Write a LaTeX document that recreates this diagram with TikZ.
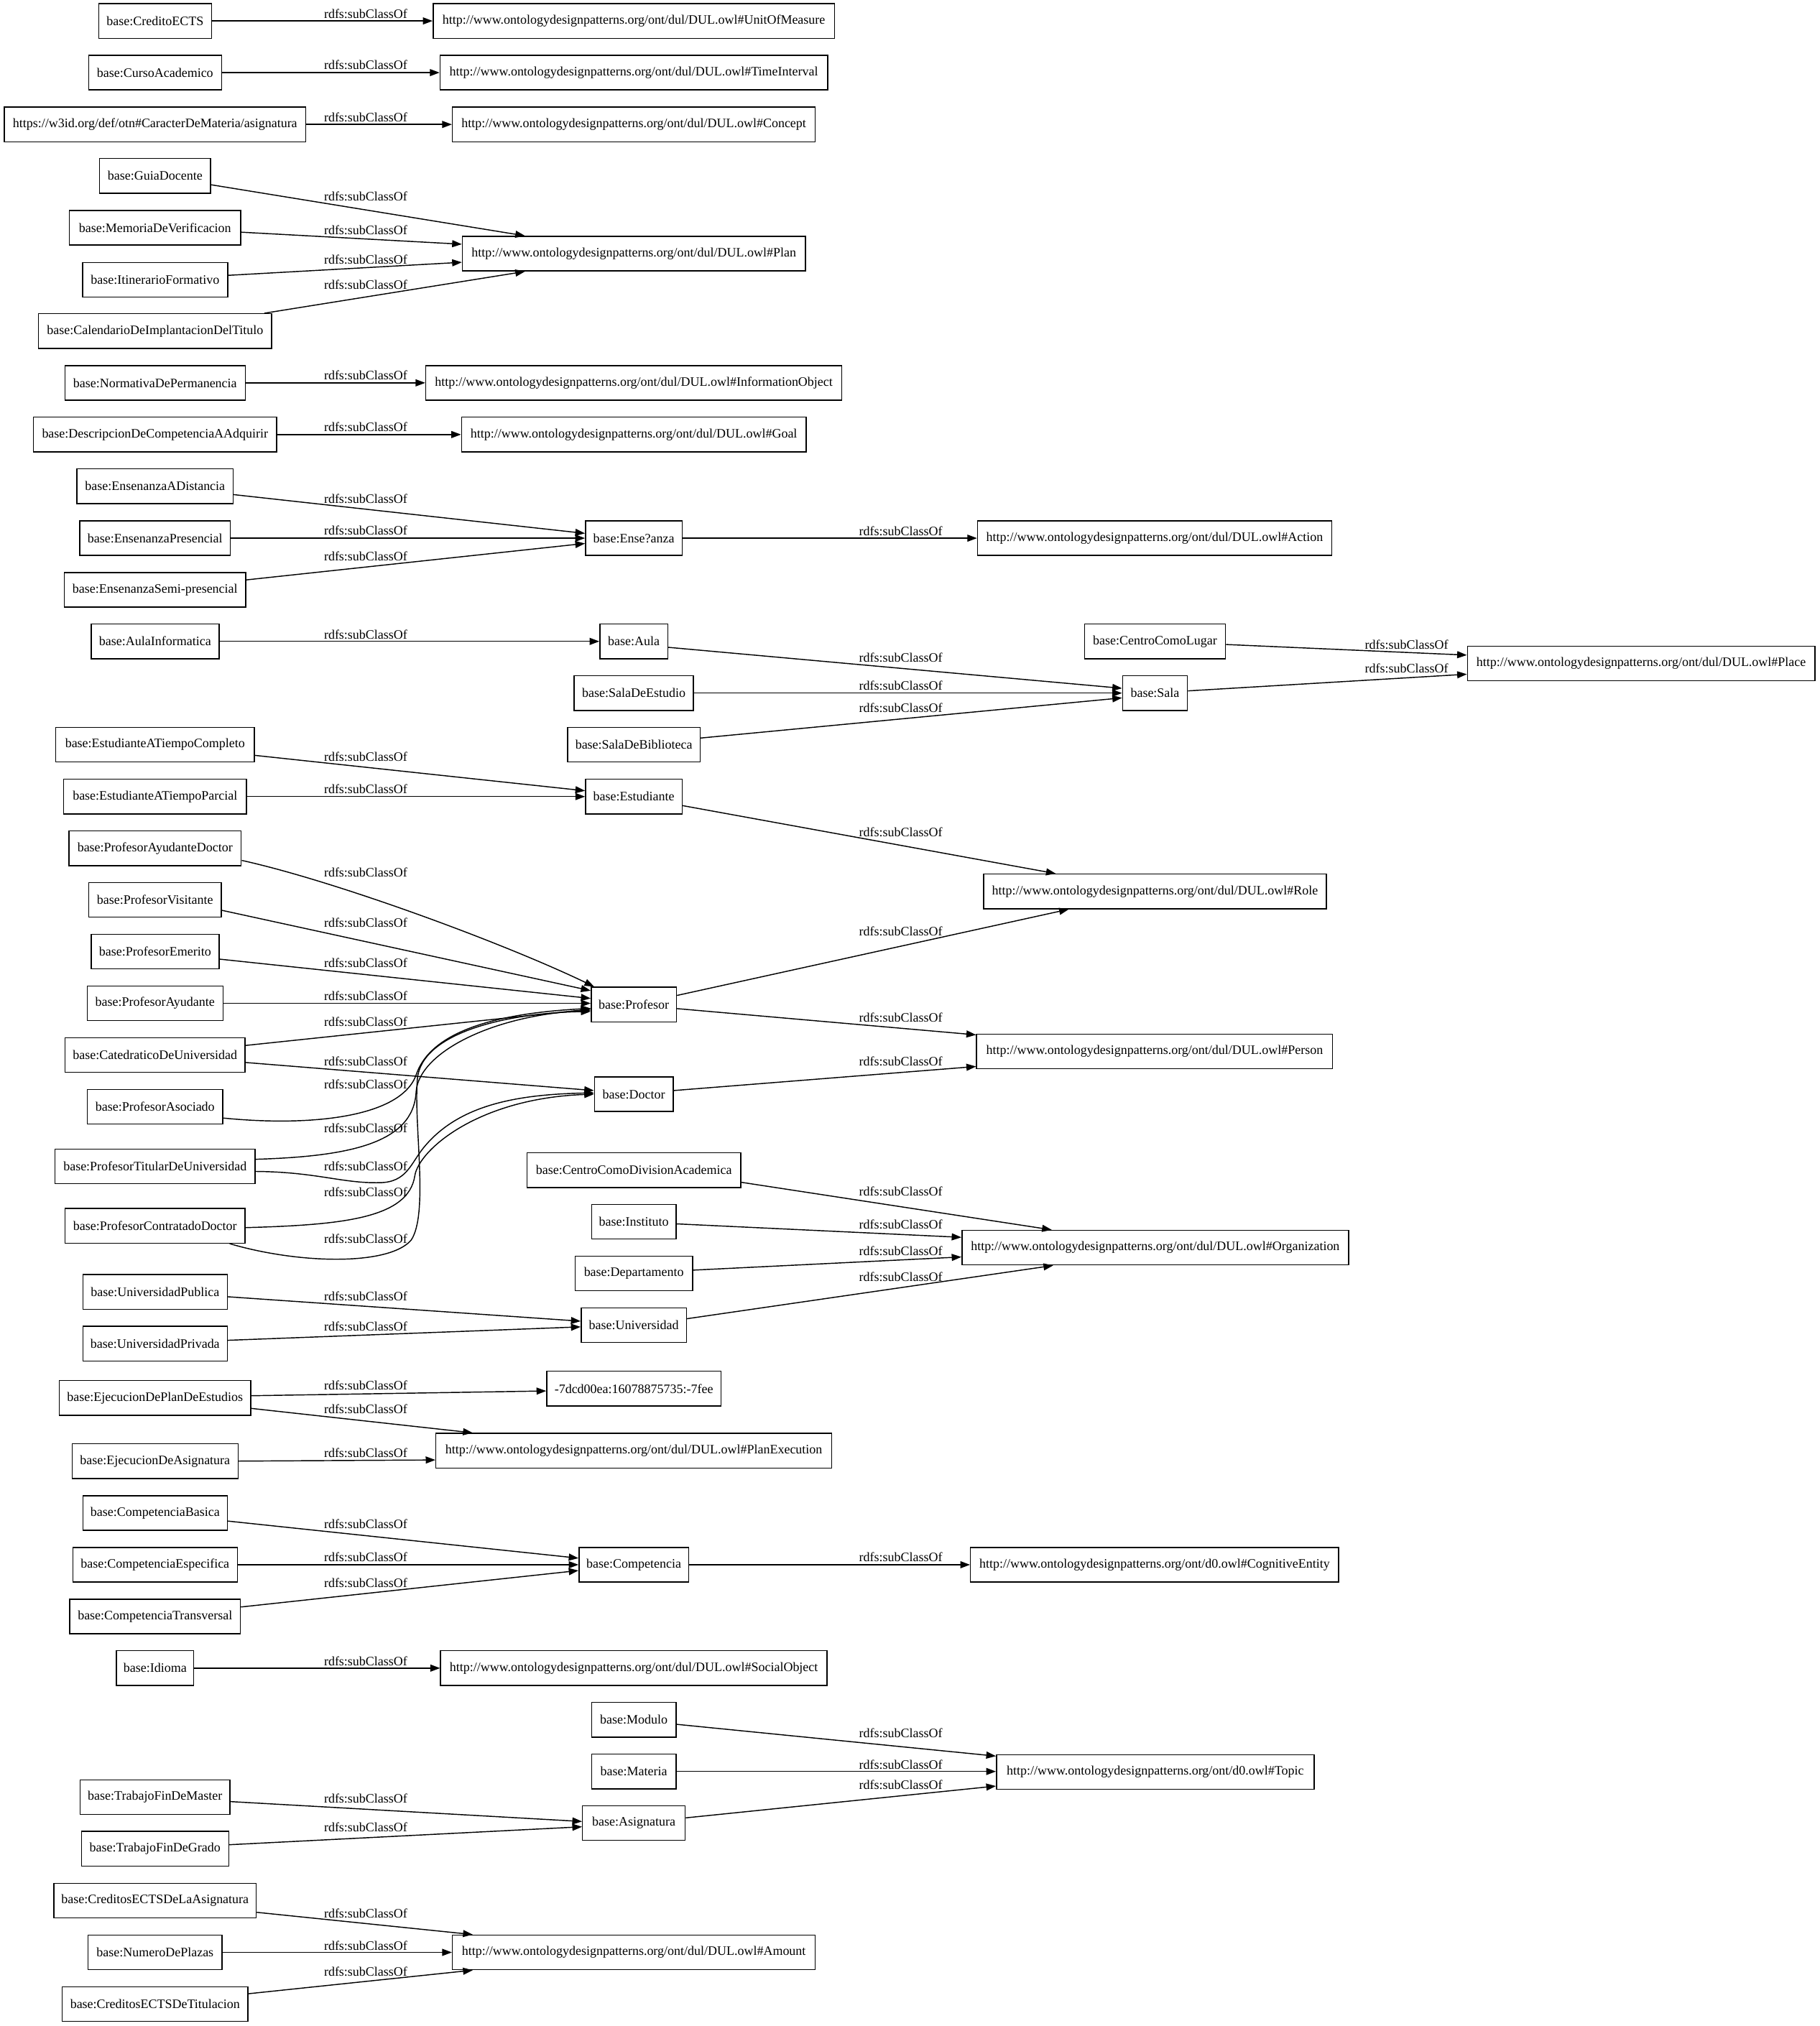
\documentclass[tikz,border=0pt]{standalone}
\usepackage{fontspec}
\setmainfont{Liberation Serif}
\usetikzlibrary{arrows.meta,calc}

% namespaces used in the class labels
\newcommand\dulns{http://www.ontologydesignpatterns.org/ont/dul/DUL.owl\#}
\newcommand\dzerons{http://www.ontologydesignpatterns.org/ont/d0.owl\#}
\newcommand\rsub{rdfs:subClassOf}

\begin{document}
\begin{tikzpicture}[x=1pt,y=-1pt,
  box/.style={draw, line width=0.8pt, rectangle, minimum height=26.8pt,
              inner xsep=2pt, inner ysep=0pt,
              font=\fontsize{10pt}{12pt}\selectfont},
  bw/.style={minimum width=#1pt},
  lbl/.style={inner sep=0pt, font=\fontsize{10pt}{12pt}\selectfont},
  sub/.style={draw, line width=0.8pt, -{Triangle[length=7.5pt,width=5.4pt]}},
]
\fill[white] (0,0) rectangle (1408,1568);
\useasboundingbox (0,0) rectangle (1408,1568);

% ---------- subclasses (left column)
\node[box,bw=87.2]  (cecs)      at (120,16.2)   {base:CreditoECTS};
\node[box,bw=102.9] (curso)     at (120,56.2)   {base:CursoAcademico};
\node[box,bw=233.1] (caract)    at (120,96.3)   {https://w3id.org/def/otn\#CaracterDeMateria/asignatura};
\node[box,bw=85.9]  (guia)      at (120,136.1)  {base:GuiaDocente};
\node[box,bw=132.7] (memoria)   at (120,176.3)  {base:MemoriaDeVerificacion};
\node[box,bw=112.3] (itin)      at (120,216.5)  {base:ItinerarioFormativo};
\node[box,bw=180.4] (calend)    at (120,256.2)  {base:CalendarioDeImplantacionDelTitulo};
\node[box,bw=139.5] (normativa) at (120,296.3)  {base:NormativaDePermanencia};
\node[box,bw=188.1] (descr)     at (120,336.3)  {base:DescripcionDeCompetenciaAAdquirir};
\node[box,bw=120.8] (ensdist)   at (120,376.3)  {base:EnsenanzaADistancia};
\node[box,bw=116.6] (enspres)   at (120,416.5)  {base:EnsenanzaPresencial};
\node[box,bw=140.4] (enssemi)   at (120,456.5)  {base:EnsenanzaSemi-presencial};
\node[box,bw=99]    (aulainf)   at (120,496.4)  {base:AulaInformatica};
\node[box,bw=153.6] (estcomp)   at (120,576.4)  {base:EstudianteATiempoCompleto};
\node[box,bw=141.4] (estparc)   at (120,616.5)  {base:EstudianteATiempoParcial};
\node[box,bw=133.4] (profayd)   at (120,656.5)  {base:ProfesorAyudanteDoctor};
\node[box,bw=102.4] (profvis)   at (120,696.5)  {base:ProfesorVisitante};
\node[box,bw=99]    (profem)    at (120,736.5)  {base:ProfesorEmerito};
\node[box,bw=105.1] (profay)    at (120,776.5)  {base:ProfesorAyudante};
\node[box,bw=139.4] (catedr)    at (120,816.5)  {base:CatedraticoDeUniversidad};
\node[box,bw=104.9] (profas)    at (120,856.6)  {base:ProfesorAsociado};
\node[box,bw=155]   (proftit)   at (120,902.7)  {base:ProfesorTitularDeUniversidad};
\node[box,bw=139.4] (profcon)   at (120,948.7)  {base:ProfesorContratadoDoctor};
\node[box,bw=111.8] (unipub)    at (120,999.8)  {base:UniversidadPublica};
\node[box,bw=111.8] (unipriv)   at (120,1039.9) {base:UniversidadPrivada};
\node[box,bw=148.1] (ejplan)    at (120,1081.9) {base:EjecucionDePlanDeEstudios};
\node[box,bw=128.5] (ejasig)    at (120,1130.8) {base:EjecucionDeAsignatura};
\node[box,bw=111.8] (compbas)   at (120,1171)   {base:CompetenciaBasica};
\node[box,bw=127.3] (compesp)   at (120,1211)   {base:CompetenciaEspecifica};
\node[box,bw=132]   (comptra)   at (120,1251.1) {base:CompetenciaTransversal};
\node[box,bw=59.9]  (idioma)    at (120,1291)   {base:Idioma};
\node[box,bw=115.8] (tfm)       at (120,1390.9) {base:TrabajoFinDeMaster};
\node[box,bw=113.9] (tfg)       at (120,1430.8) {base:TrabajoFinDeGrado};
\node[box,bw=156.5] (credasig)  at (120,1471)   {base:CreditosECTSDeLaAsignatura};
\node[box,bw=103.8] (numplaz)   at (120,1511)   {base:NumeroDePlazas};
\node[box,bw=143.8] (credtit)   at (120,1551)   {base:CreditosECTSDeTitulacion};

% ---------- middle column
\node[box,bw=310.6] (uom)      at (490.5,16.2)   {\dulns UnitOfMeasure};
\node[box,bw=299.9] (timeint)  at (490.5,56.2)   {\dulns TimeInterval};
\node[box,bw=280.8] (concept)  at (490.5,96.3)   {\dulns Concept};
\node[box,bw=265.4] (plan)     at (490.5,196.3)  {\dulns Plan};
\node[box,bw=322]   (infobj)   at (490.5,296.3)  {\dulns InformationObject};
\node[box,bw=266.7] (goal)     at (490.5,336.3)  {\dulns Goal};
\node[box,bw=74.8]  (ense)     at (490.5,416.5)  {base:Ense?anza};
\node[box,bw=52.6]  (aula)     at (490.5,496.4)  {base:Aula};
\node[box,bw=92.3]  (salaest)  at (490.5,536.4)  {base:SalaDeEstudio};
\node[box,bw=102.4] (salabib)  at (490.5,576.4)  {base:SalaDeBiblioteca};
\node[box,bw=74.7]  (estud)    at (490.5,616.5)  {base:Estudiante};
\node[box,bw=66]    (prof)     at (490.5,777.4)  {base:Profesor};
\node[box,bw=60.9]  (doctor)   at (490.5,846.8)  {base:Doctor};
\node[box,bw=165.3] (ccda)     at (490.5,905.6)  {base:CentroComoDivisionAcademica};
\node[box,bw=65.5]  (inst)     at (490.5,945.5)  {base:Instituto};
\node[box,bw=90.9]  (depto)    at (490.5,985.6)  {base:Departamento};
\node[box,bw=81.5]  (univ)     at (490.5,1025.5) {base:Universidad};
\node[box,bw=134.8] (anon)     at (490.5,1074.7) {-7dcd00ea:16078875735:-7fee};
\node[box,bw=306.3] (planexec) at (490.5,1122.7) {\dulns PlanExecution};
\node[box,bw=84.9]  (compet)   at (490.5,1211)   {base:Competencia};
\node[box,bw=299.1] (socobj)   at (490.5,1291)   {\dulns SocialObject};
\node[box,bw=65.3]  (modulo)   at (490.5,1331)   {base:Modulo};
\node[box,bw=65.3]  (materia)  at (490.5,1371)   {base:Materia};
\node[box,bw=79.4]  (asig)     at (490.5,1411)   {base:Asignatura};
\node[box,bw=280.8] (amount)   at (490.5,1511)   {\dulns Amount};

% ---------- right columns
\node[box,bw=274.1] (action) at (893.5,416.5)  {\dulns Action};
\node[box,bw=109.1] (ccl)    at (893.8,496.4)  {base:CentroComoLugar};
\node[box,bw=50.2]  (sala)   at (893.8,536.4)  {base:Sala};
\node[box,bw=265.4] (role)   at (893.8,689.9)  {\dulns Role};
\node[box,bw=275.5] (person) at (893.5,813.7)  {\dulns Person};
\node[box,bw=299.2] (org)    at (894,965.6)    {\dulns Organization};
\node[box,bw=284.9] (cog)    at (893.5,1211)   {\dzerons CognitiveEntity};
\node[box,bw=245.8] (topic)  at (894,1371.5)   {\dzerons Topic};
\node[box,bw=268.9] (place)  at (1270,513.5)   {\dulns Place};

% ---------- subclass edges
\draw[sub] (cecs.east) -- (uom.west);
\draw[sub] (curso.east) -- (timeint.west);
\draw[sub] (caract.east) -- (concept.west);
\draw[sub] ($(guia.east)+(0,6.9)$) -- ($(plan.north)+(-84.2,0)$);
\draw[sub] ($(memoria.east)+(0,3.4)$) -- ($(plan.west)+(0,-7.3)$);
\draw[sub] ($(itin.east)+(0,-3.4)$) -- ($(plan.west)+(0,6.7)$);
\draw[sub] ($(calend.north east)+(-6,0)$) -- ($(plan.south)+(-84.2,0)$);
\draw[sub] (normativa.east) -- (infobj.west);
\draw[sub] (descr.east) -- (goal.west);

\draw[sub] ($(ensdist.east)+(0,6.5)$) -- ($(ense.west)+(0,-3.7)$);
\draw[sub] (enspres.east) -- (ense.west);
\draw[sub] ($(enssemi.east)+(0,-7.7)$) -- ($(ense.west)+(0,4.1)$);
\draw[sub] (ense.east) -- (action.west);

\draw[sub] (aulainf.east) -- (aula.west);
\draw[sub] ($(aula.east)+(0,4.6)$) -- ($(sala.west)+(0,-3.7)$);
\draw[sub] (salaest.east) -- (sala.west);
\draw[sub] ($(salabib.east)+(0,-5.2)$) -- ($(sala.west)+(0,3.7)$);
\draw[sub] ($(ccl.east)+(0,2.4)$) -- ($(place.west)+(0,-6.5)$);
\draw[sub] ($(sala.east)+(0,-1.7)$) -- ($(place.west)+(0,8.3)$);

\draw[sub] ($(estcomp.east)+(0,8.2)$) -- ($(estud.west)+(0,-4.5)$);
\draw[sub] (estparc.east) -- (estud.west);
\draw[sub] ($(estud.east)+(0,7)$) -- ($(role.north)+(-76.8,0)$);

\draw[sub] ($(profayd.east)+(0,9.4)$) .. controls (260,682) and (390,730) .. ($(prof.north west)+(2.7,0)$);
\draw[sub] ($(profvis.east)+(0,8)$) -- ($(prof.west)+(0,-10.7)$);
\draw[sub] ($(profem.east)+(0,5.8)$) -- ($(prof.west)+(0,-4.7)$);
\draw[sub] (profay.east) -- (prof.west |- profay.east);
\draw[sub] ($(catedr.east)+(0,-7.4)$) -- ($(prof.west)+(0,3.6)$);
\draw[sub] ($(catedr.east)+(0,5.8)$) -- ($(doctor.west)+(0,-2.8)$);
\draw[sub] ($(profas.east)+(0,8.7)$) .. controls (240,872) and (310,865) .. (322,832)
           .. controls (334,796) and (390,784) .. ($(prof.west)+(0,3)$);
\draw[sub] ($(proftit.east)+(0,-5.5)$) .. controls (270,895) and (320,885) .. (322,845)
           .. controls (324,815) and (380,786) .. ($(prof.west)+(0,4.4)$);
\draw[sub] ($(proftit.east)+(0,3.9)$) .. controls (245,907) and (265,916) .. (294,915.3)
           .. controls (315,915) and (318,900) .. (328,888)
           .. controls (355,855) and (400,847) .. ($(doctor.west)+(0,-1)$);
\draw[sub] ($(profcon.east)+(0,1.4)$) .. controls (265,948) and (316,943) .. (321,910)
           .. controls (324,890) and (370,850) .. (doctor.west);
\draw[sub] ($(profcon.south east)+(-12.4,0)$) .. controls (230,978) and (300,980) .. (318,960)
           .. controls (332,940) and (320,870) .. (323,835)
           .. controls (326,800) and (390,784) .. ($(prof.west)+(0,5.4)$);
\draw[sub] ($(prof.east)+(0,-7)$) -- ($(role.south)+(-66.7,0)$);
\draw[sub] ($(prof.east)+(0,3.2)$) -- ($(person.north west)+(0,1)$);
\draw[sub] ($(doctor.east)+(0,-2.8)$) -- ($(person.west)+(0,11.7)$);

\draw[sub] ($(ccda.east)+(0,9.4)$) -- ($(org.north)+(-80.1,0)$);
\draw[sub] ($(inst.east)+(0,1.7)$) -- ($(org.west)+(0,-8)$);
\draw[sub] ($(depto.east)+(0,-2.6)$) -- ($(org.west)+(0,7.2)$);
\draw[sub] ($(univ.east)+(0,-4.9)$) -- ($(org.south)+(-79,0)$);
\draw[sub] ($(unipub.east)+(0,3.8)$) -- ($(univ.west)+(0,-3)$);
\draw[sub] ($(unipriv.east)+(0,-2.6)$) -- ($(univ.west)+(0,1.4)$);

\draw[sub] ($(ejplan.east)+(0,-1.7)$) -- ($(anon.west)+(0,1.8)$);
\draw[sub] ($(ejplan.east)+(0,8.1)$) -- ($(planexec.north)+(-124.7,0)$);
\draw[sub] (ejasig.east) -- ($(planexec.west)+(0,7.2)$);

\draw[sub] ($(compbas.east)+(0,6.2)$) -- ($(compet.west)+(0,-5.1)$);
\draw[sub] (compesp.east) -- (compet.west);
\draw[sub] ($(comptra.east)+(0,-7.4)$) -- ($(compet.west)+(0,4.5)$);
\draw[sub] (compet.east) -- (cog.west);
\draw[sub] (idioma.east) -- (socobj.west);

\draw[sub] ($(modulo.east)+(0,3.5)$) -- ($(topic.west)+(0,-12.4)$);
\draw[sub] (materia.east) -- (topic.west |- materia.east);
\draw[sub] ($(asig.east)+(0,-4.1)$) -- ($(topic.west)+(0,10.8)$);
\draw[sub] ($(tfm.east)+(0,3.4)$) -- ($(asig.west)+(0,-1.3)$);
\draw[sub] ($(tfg.east)+(0,-3.1)$) -- ($(asig.west)+(0,2.8)$);

\draw[sub] ($(credasig.east)+(0,9)$) -- ($(amount.north)+(-124.7,0)$);
\draw[sub] (numplaz.east) -- (amount.west);
\draw[sub] ($(credtit.east)+(0,-8)$) -- ($(amount.south)+(-124.7,0)$);

% ---------- edge labels
\node[lbl] (l01) at (283,10.6)   {\rsub};
\node[lbl] (l02) at (283,50.4)   {\rsub};
\node[lbl] (l03) at (283,90.6)   {\rsub};
\node[lbl] (l04) at (283,151.9)  {\rsub};
\node[lbl] (l05) at (283,178.3)  {\rsub};
\node[lbl] (l06) at (283,200.7)  {\rsub};
\node[lbl] (l07) at (283,220.5)  {\rsub};
\node[lbl] (l08) at (283,290.4)  {\rsub};
\node[lbl] (l09) at (283,330.6)  {\rsub};
\node[lbl] (l10) at (283,385.8)  {\rsub};
\node[lbl] (l11) at (283,410.6)  {\rsub};
\node[lbl] (l12) at (283,430.3)  {\rsub};
\node[lbl] (l13) at (283,491)    {\rsub};
\node[lbl] (l14) at (283,585.9)  {\rsub};
\node[lbl] (l15) at (283,610.9)  {\rsub};
\node[lbl] (l16) at (283,675.4)  {\rsub};
\node[lbl] (l17) at (283,714.3)  {\rsub};
\node[lbl] (l18) at (283,745.2)  {\rsub};
\node[lbl] (l19) at (283,770.8)  {\rsub};
\node[lbl] (l20) at (283,790.8)  {\rsub};
\node[lbl] (l21) at (283,821.2)  {\rsub};
\node[lbl] (l22) at (283,839.4)  {\rsub};
\node[lbl] (l23) at (283,873.1)  {\rsub};
\node[lbl] (l24) at (283,902.7)  {\rsub};
\node[lbl] (l25) at (283,922.7)  {\rsub};
\node[lbl] (l26) at (283,958.9)  {\rsub};
\node[lbl] (l27) at (283,1003.4) {\rsub};
\node[lbl] (l28) at (283,1026.5) {\rsub};
\node[lbl] (l29) at (283,1072.4) {\rsub};
\node[lbl] (l30) at (283,1090.4) {\rsub};
\node[lbl] (l31) at (283,1124.7) {\rsub};
\node[lbl] (l32) at (283,1179.4) {\rsub};
\node[lbl] (l33) at (283,1205)   {\rsub};
\node[lbl] (l34) at (283,1225.3) {\rsub};
\node[lbl] (l35) at (283,1285.6) {\rsub};
\node[lbl] (l36) at (283,1392.1) {\rsub};
\node[lbl] (l37) at (283,1414.1) {\rsub};
\node[lbl] (l38) at (283,1481)   {\rsub};
\node[lbl] (l39) at (283,1506)   {\rsub};
\node[lbl] (l40) at (283,1525.8) {\rsub};

\node[lbl] (m01) at (697,411)    {\rsub};
\node[lbl] (m02) at (697,508.8)  {\rsub};
\node[lbl] (m03) at (697,530.8)  {\rsub};
\node[lbl] (m04) at (697,547.9)  {\rsub};
\node[lbl] (m05) at (697,644.1)  {\rsub};
\node[lbl] (m06) at (697,720.8)  {\rsub};
\node[lbl] (m07) at (697,787.5)  {\rsub};
\node[lbl] (m08) at (697,821.2)  {\rsub};
\node[lbl] (m09) at (697,921.8)  {\rsub};
\node[lbl] (m10) at (697,947.7)  {\rsub};
\node[lbl] (m11) at (697,968.1)  {\rsub};
\node[lbl] (m12) at (697,988)    {\rsub};
\node[lbl] (m13) at (697,1205)   {\rsub};
\node[lbl] (m14) at (697,1341.5) {\rsub};
\node[lbl] (m15) at (697,1365.6) {\rsub};
\node[lbl] (m16) at (697,1381.3) {\rsub};

\node[lbl] (r01) at (1088.5,499)   {\rsub};
\node[lbl] (r02) at (1088.5,517.5) {\rsub};
\end{tikzpicture}
\end{document}
